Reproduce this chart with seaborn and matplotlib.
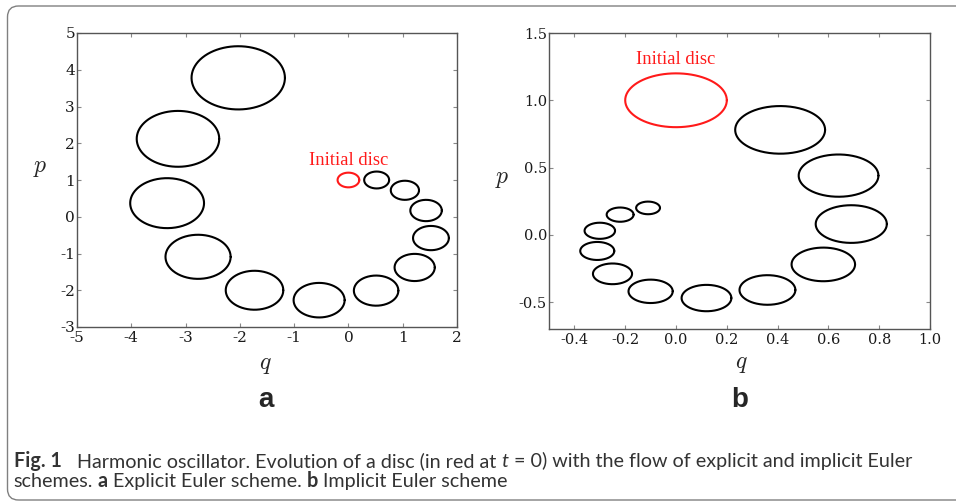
import numpy as np
import pandas as pd
import matplotlib
matplotlib.use("Agg")
import matplotlib.pyplot as plt
import seaborn as sns
from matplotlib import font_manager
from matplotlib.patches import FancyBboxPatch
from matplotlib.transforms import IdentityTransform

# ---------------- data ----------------
# panel a: explicit Euler discs (centre q, centre p, radius)
a_init_q, a_init_p, a_init_r = 0.0, 1.0, 0.20
a_q = [0.52, 1.04, 1.43, 1.52, 1.22, 0.51, -0.54, -1.73, -2.77, -3.34, -3.14, -2.03]
a_p = [1.00, 0.72, 0.17, -0.58, -1.38, -2.01, -2.27, -2.00, -1.09, 0.37, 2.12, 3.78]
a_r = [0.23, 0.26, 0.29, 0.33, 0.37, 0.41, 0.47, 0.53, 0.60, 0.68, 0.76, 0.86]

# panel b: implicit Euler discs
b_init_q, b_init_p, b_init_r = 0.0, 1.0, 0.20
b_q = [0.41, 0.64, 0.69, 0.58, 0.36, 0.12, -0.10, -0.25, -0.31, -0.30, -0.22, -0.11]
b_p = [0.78, 0.44, 0.08, -0.22, -0.41, -0.47, -0.42, -0.29, -0.12, 0.03, 0.15, 0.20]
b_r = [0.177, 0.157, 0.140, 0.125, 0.110, 0.098, 0.087, 0.077, 0.067, 0.060, 0.053, 0.047]

a_xticks = [-5, -4, -3, -2, -1, 0, 1, 2]
a_yticks = [-3, -2, -1, 0, 1, 2, 3, 4, 5]
b_xticks = [-0.4, -0.2, 0.0, 0.2, 0.4, 0.6, 0.8, 1.0]
b_yticks = [-0.5, 0.0, 0.5, 1.0, 1.5]

label_text = "Initial disc"

# ---------------- style ----------------
sns.set_style("ticks")
plt.rcParams["font.family"] = ["DejaVu Serif"]
plt.rcParams["axes.unicode_minus"] = False
plt.rcParams["mathtext.fontset"] = "cm"


def has_font(name):
    try:
        font_manager.findfont(name, fallback_to_default=False)
        return True
    except Exception:
        return False


cap_font = "Liberation Sans Narrow" if has_font("Liberation Sans Narrow") else (
    "Lato" if has_font("Lato") else "Open Sans")


def outlines(qs, ps, rs, kind, n=240):
    theta = np.linspace(0, 2 * np.pi, n)
    frames = []
    for i, (q, p, r) in enumerate(zip(qs, ps, rs)):
        frames.append(pd.DataFrame({
            "q": q + r * np.cos(theta),
            "p": p + r * np.sin(theta),
            "disc": f"{kind}{i}",
            "kind": kind,
        }))
    return pd.concat(frames, ignore_index=True)


W, H = 956, 501
fig = plt.figure(figsize=(W / 100, H / 100), dpi=100)

# rounded frame around the figure
box = FancyBboxPatch((7.5, 1.0), 975, 494, boxstyle="round,pad=0,rounding_size=11",
                     transform=IdentityTransform(), facecolor="none",
                     edgecolor="#808080", linewidth=1.0)
fig.patches.append(box)

ax_a = fig.add_axes([77 / W, 1 - 327 / H, 380 / W, 294 / H])
ax_b = fig.add_axes([549 / W, 1 - 329 / H, 381 / W, 296 / H])

palette = {"initial": "#ff1a1a", "evolved": "black"}

df_a = pd.concat([outlines([a_init_q], [a_init_p], [a_init_r], "initial"),
                  outlines(a_q, a_p, a_r, "evolved")], ignore_index=True)
df_b = pd.concat([outlines([b_init_q], [b_init_p], [b_init_r], "initial"),
                  outlines(b_q, b_p, b_r, "evolved")], ignore_index=True)

for ax, df in ((ax_a, df_a), (ax_b, df_b)):
    sns.lineplot(data=df, x="q", y="p", units="disc", hue="kind", palette=palette,
                 estimator=None, sort=False, linewidth=1.5, legend=False, ax=ax)

ax_a.set_xlim(-5, 2)
ax_a.set_ylim(-3, 5)
ax_a.set_xticks(a_xticks)
ax_a.set_yticks(a_yticks)
ax_a.set_xticklabels([str(v) for v in a_xticks])
ax_a.set_yticklabels([str(v) for v in a_yticks])

ax_b.set_xlim(-0.5, 1.0)
ax_b.set_ylim(-0.7, 1.5)
ax_b.set_xticks(b_xticks)
ax_b.set_yticks(b_yticks)
ax_b.set_xticklabels([f"{v:.1f}" for v in b_xticks])
ax_b.set_yticklabels([f"{v:.1f}" for v in b_yticks])

for ax in (ax_a, ax_b):
    for s in ax.spines.values():
        s.set_color("#555555")
        s.set_linewidth(1.0)
    ax.tick_params(direction="in", length=3, width=0.8, color="#888888",
                   top=True, right=True, labelsize=10.5, labelcolor="#1a1a1a")
    ax.tick_params(axis="x", pad=3)
    ax.tick_params(axis="y", pad=1.5)
    ax.set_xlabel("$q$", fontsize=17)
    ax.set_ylabel("$p$", fontsize=17, rotation=0, ha="center", va="center")

ax_a.tick_params(labelsize=11)

ax_a.xaxis.set_label_coords(0.497, -0.088)
ax_a.yaxis.set_label_coords(-0.097, 0.541)
ax_b.xaxis.set_label_coords(0.504, -0.078)
ax_b.yaxis.set_label_coords(-0.123, 0.51)

ax_a.text(0.0, 1.54, label_text, color="#ff1a1a", family="Liberation Serif",
          fontsize=13.4, ha="center", va="center")
ax_b.text(0.0, 1.30, label_text, color="#ff1a1a", family="Liberation Serif",
          fontsize=13.4, ha="center", va="center")

# panel letters
fig.text(265.5, H - 407, "a", transform=IdentityTransform(), fontsize=20,
         weight="bold", family="Liberation Sans", ha="center", va="baseline")
fig.text(740, H - 407, "b", transform=IdentityTransform(), fontsize=20,
         weight="bold", family="Liberation Sans", ha="center", va="baseline")

# ---------------- caption ----------------
renderer = fig.canvas.get_renderer()
cap_color = "#333333"

line1 = [("Fig. 1", "bold", "normal", "gap"),
         ("Harmonic oscillator. Evolution of a disc (in red at", "normal", "normal", "sp"),
         ("t", "normal", "italic", "sp"),
         ("= 0) with the flow of explicit and implicit Euler", "normal", "normal", None)]
line2 = [("schemes.", "normal", "normal", "sp"),
         ("a", "bold", "normal", "sp"),
         ("Explicit Euler scheme.", "normal", "normal", "sp"),
         ("b", "bold", "normal", "sp"),
         ("Implicit Euler scheme", "normal", "normal", None)]


def text_width(s, size, weight="normal"):
    t = fig.text(0, 0, s, fontsize=size, family=cap_font, weight=weight,
                 transform=IdentityTransform())
    w = t.get_window_extent(renderer).width
    t.remove()
    return w


def draw_line(pieces, x0, ybase, size):
    sp = text_width("a a", size) - text_width("aa", size)
    x = x0
    made = []
    for txt, weight, style, after in pieces:
        t = fig.text(x, ybase, txt, fontsize=size, family=cap_font, weight=weight,
                     style=style, color=cap_color, ha="left", va="baseline",
                     transform=IdentityTransform())
        made.append(t)
        x = t.get_window_extent(renderer).x1
        if after == "sp":
            x += sp
        elif after == "gap":
            x += 3.2 * sp
    return made, x


size0 = 13.0
tmp, xend = draw_line(line1, 13.5, H - 467, size0)
for t in tmp:
    t.remove()
size = size0 * (910 - 13.5) / (xend - 13.5)
draw_line(line1, 13.5, H - 467, size)
draw_line(line2, 13.5, H - 487, size)

fig.savefig("out.png", dpi=100)
